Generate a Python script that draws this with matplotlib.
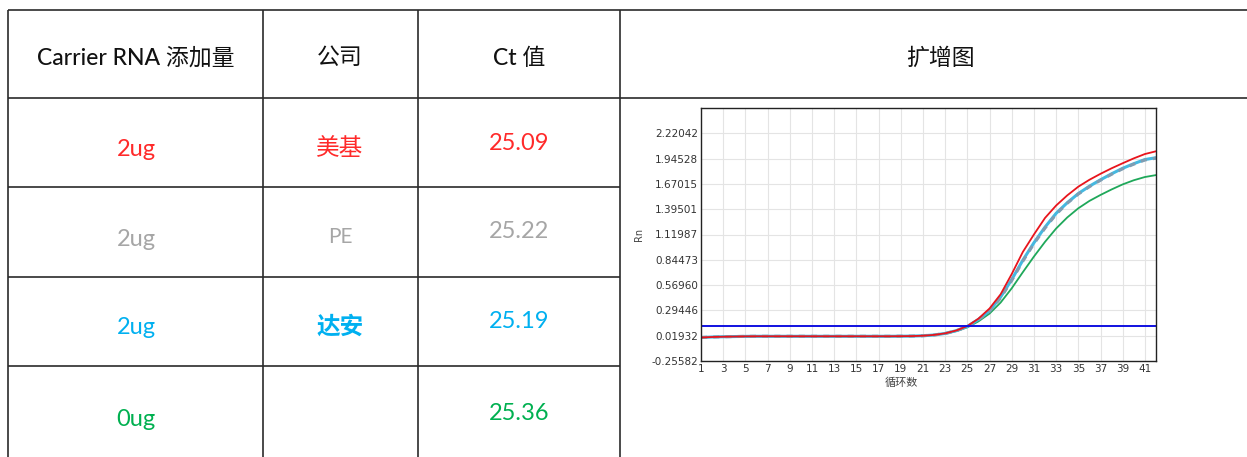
import matplotlib
matplotlib.use('Agg')
import matplotlib.pyplot as plt

plt.rcParams['font.family'] = ['Lato', 'Noto Sans CJK SC', 'DejaVu Sans']

# table contents
headers = ['Carrier RNA 添加量', '公司', 'Ct 值', '扩增图']
amounts = ['2ug', '2ug', '2ug', '0ug']
companies = ['美基', 'PE', '达安', '']
ct_values = ['25.09', '25.22', '25.19', '25.36']
row_colors = ['#ff2a2a', '#a6a6a6', '#00b0f0', '#00b050']

# amplification curves, read per cycle
cycles = list(range(1, 43))
rn_meiji = [0.000, 0.005, 0.008, 0.010, 0.012, 0.013, 0.013, 0.013, 0.013, 0.013,
            0.013, 0.013, 0.013, 0.013, 0.013, 0.013, 0.013, 0.013, 0.014, 0.015,
            0.019, 0.028, 0.045, 0.076, 0.124, 0.205, 0.315, 0.470, 0.690, 0.930,
            1.120, 1.300, 1.435, 1.545, 1.640, 1.715, 1.780, 1.840, 1.895, 1.948,
            1.995, 2.025]
rn_pe = [0.000, 0.005, 0.008, 0.010, 0.012, 0.013, 0.013, 0.013, 0.013, 0.013,
         0.013, 0.013, 0.013, 0.013, 0.013, 0.013, 0.013, 0.013, 0.014, 0.015,
         0.019, 0.027, 0.043, 0.073, 0.118, 0.193, 0.285, 0.430, 0.620, 0.830,
         1.020, 1.190, 1.340, 1.460, 1.560, 1.640, 1.710, 1.775, 1.835, 1.885,
         1.930, 1.950]
rn_daan = [0.000, 0.005, 0.008, 0.010, 0.012, 0.013, 0.013, 0.013, 0.013, 0.013,
           0.013, 0.013, 0.013, 0.013, 0.013, 0.013, 0.013, 0.013, 0.014, 0.015,
           0.019, 0.027, 0.044, 0.074, 0.120, 0.196, 0.290, 0.440, 0.630, 0.840,
           1.030, 1.200, 1.350, 1.465, 1.565, 1.645, 1.715, 1.780, 1.840, 1.890,
           1.935, 1.955]
rn_none = [0.000, 0.005, 0.008, 0.010, 0.012, 0.013, 0.013, 0.013, 0.013, 0.013,
           0.013, 0.013, 0.013, 0.013, 0.013, 0.013, 0.013, 0.013, 0.014, 0.015,
           0.018, 0.026, 0.041, 0.069, 0.110, 0.175, 0.260, 0.380, 0.535, 0.710,
           0.880, 1.040, 1.185, 1.305, 1.405, 1.485, 1.550, 1.610, 1.665, 1.710,
           1.745, 1.766]
threshold = 0.125
y_ticks = [-0.25582, 0.01932, 0.29446, 0.56960, 0.84473, 1.11987, 1.39501,
           1.67015, 1.94528, 2.22042]
x_ticks = list(range(1, 42, 2))

W, H = 1247, 457
fig = plt.figure(figsize=(W / 100, H / 100), dpi=100)

# table drawn in pixel coordinates
tab = fig.add_axes([0, 0, 1, 1])
tab.set_xlim(0, W)
tab.set_ylim(H, 0)
tab.axis('off')

line_kw = dict(color='#2b2b2b', lw=1.2, solid_capstyle='butt')
col_x = [8, 263, 418, 620]
tab.plot([8, W], [10, 10], **line_kw)
tab.plot([8, W], [98, 98], **line_kw)
for y in [187, 277, 366]:
    tab.plot([8, 620], [y, y], **line_kw)
for x in col_x:
    tab.plot([x, x], [10, H], **line_kw)

head_x = [136, 340, 519, 940]
for hx, txt in zip(head_x, headers):
    tab.text(hx, 58, txt, ha='center', va='center', fontsize=16.5,
             color='#111111', fontweight='medium')

amount_y = [150, 239, 327, 420]
comp_y = [148, 237, 326, 420]
ct_y = [143, 232, 321, 414]
for i in range(4):
    c = row_colors[i]
    tab.text(136, amount_y[i], amounts[i], ha='center', va='center',
             fontsize=17, color=c)
    is_cjk = companies[i] not in ('PE', '')
    tab.text(340, comp_y[i], companies[i], ha='center', va='center',
             fontsize=17 if is_cjk else 15, color=c,
             fontweight='bold' if i == 2 else 'normal')
    tab.text(519, ct_y[i], ct_values[i], ha='center', va='center',
             fontsize=17, color=c)

# amplification plot
ax = fig.add_axes([701 / W, (H - 361) / H, 455 / W, 253 / H])
ax.plot(cycles, rn_none, color='#1fa85a', lw=1.3)
ax.plot(cycles, rn_daan, color='#45b8e0', lw=2.2)
ax.plot(cycles, rn_pe, color='#7f9db2', lw=2.2, ls=(0, (2, 2)))
ax.plot(cycles, rn_meiji, color='#e8141c', lw=1.3)
ax.axhline(threshold, color='#1010e0', lw=1.4)

ax.set_xlim(1, 42)
ax.set_ylim(-0.25582, 2.49556)
ax.set_xticks(x_ticks)
ax.set_yticks(y_ticks)
ax.set_yticklabels(['%.5f' % v for v in y_ticks])
ax.tick_params(labelsize=7.5, colors='#333333', length=0, pad=2,
               labelfontfamily='DejaVu Sans')
ax.grid(True, color='#e4e4e4', lw=0.8)
ax.set_axisbelow(True)
for s in ax.spines.values():
    s.set_color('#222222')
    s.set_linewidth(1.0)

ax.set_ylabel('Rn', fontsize=7, color='#444444', family='DejaVu Sans')
ax.yaxis.set_label_coords(-0.125, 0.5)
ax.set_xlabel('循环数', fontsize=8, color='#444444', family=['Noto Sans CJK SC'])
ax.xaxis.set_label_coords(0.44, -0.065)

fig.savefig('out.png', dpi=100)
